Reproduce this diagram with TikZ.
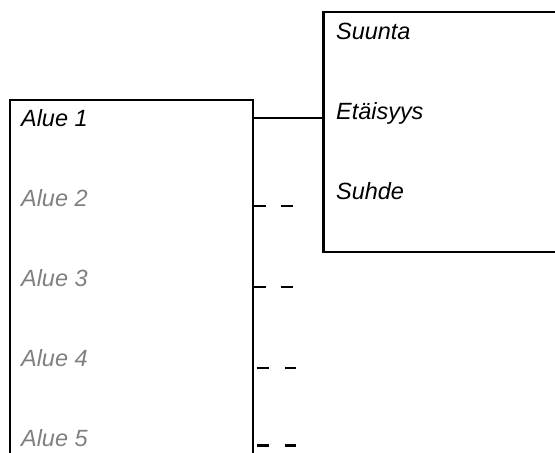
\documentclass[tikz,border=0pt]{standalone}
\usepackage{fontspec}
\setmainfont{Liberation Sans}
\definecolor{fadedgray}{RGB}{128,128,128}
\newdimen\pxu
\pxu=0.75pt
\begin{document}
\begin{tikzpicture}[x=0.75pt,y=-0.75pt,line width=1.65pt,
  lab/.style={anchor=base west,inner sep=0pt,font=\fontsize{17.6}{20}\selectfont\itshape},
  dim/.style={lab,text=fadedgray},
  frame/.style={draw,rectangle,inner sep=0pt,outer sep=0pt}]
\clip (0,0) rectangle (555,452);
% boxes
\node[frame,minimum width=243.6\pxu,minimum height=370\pxu] (left) at (131.5,284.7) {};
\node[frame,minimum width=247\pxu,minimum height=240\pxu] (right) at (447,132.3) {};
% left labels
\node[lab] (a1) at (20,126.7) {Alue 1};
\node[dim] (a2) at (20,206.7) {Alue 2};
\node[dim] (a3) at (20,286.7) {Alue 3};
\node[dim] (a4) at (20,366.7) {Alue 4};
\node[dim] (a5) at (20,446.7) {Alue 5};
% right labels
\node[lab] (r1) at (335,39.3) {Suunta};
\node[lab] (r2) at (335,119.3) {Etäisyys};
\node[lab] (r3) at (335,199.3) {Suhde};
% connector
\coordinate (j) at (0,118.3);
\draw (left.east |- j) -- (right.west |- j);
% dashed stubs
\coordinate (s2) at (253.3,205.7);
\coordinate (s3) at (253.3,287);
\coordinate (s4) at (256.7,367.7);
\coordinate (s5) at (256.7,445.5);
\draw (s2) -- ++(12.7,0) ++(14.7,0) -- ++(12,0);
\draw (s3) -- ++(12.7,0) ++(14.7,0) -- ++(12,0);
\draw (s4) -- ++(12.3,0) ++(16,0) -- ++(11,0);
\draw (s5) -- ++(12.3,0) ++(16,0) -- ++(11,0);
\end{tikzpicture}
\end{document}
